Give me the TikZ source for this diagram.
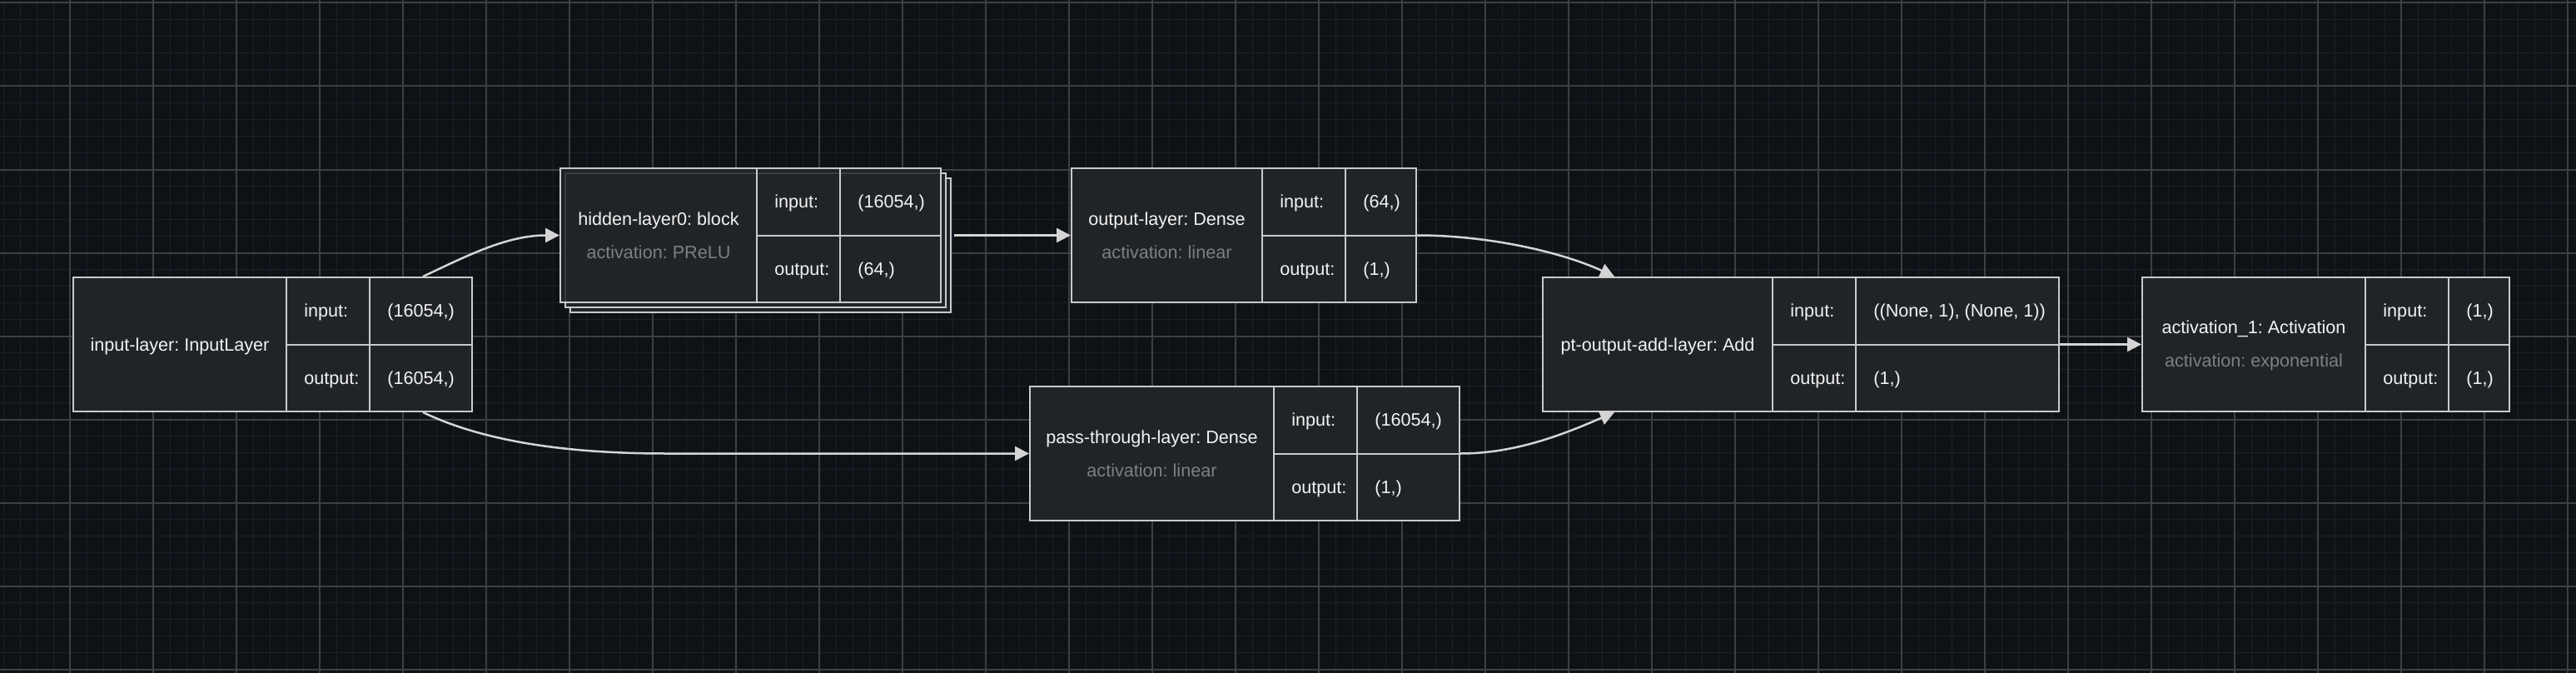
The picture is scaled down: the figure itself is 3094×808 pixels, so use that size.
\documentclass[tikz,border=0pt]{standalone}
\usepackage{fontspec}
\setmainfont{Liberation Sans}
\usetikzlibrary{arrows.meta}
\definecolor{bgc}{RGB}{15,18,21}
\definecolor{minorc}{RGB}{27,31,45}
\definecolor{majorc}{RGB}{60,63,68}
\definecolor{boxfill}{RGB}{33,36,39}
\definecolor{boxborder}{RGB}{201,202,203}
\definecolor{textc}{RGB}{242,242,242}
\definecolor{subc}{RGB}{125,127,129}
\definecolor{edgec}{RGB}{212,212,212}
\newcommand{\lfont}{\frenchspacing\fontsize{10.8pt}{12pt}\selectfont}
\tikzset{
  minorline/.style={draw=minorc, line width=0.5pt},
  majorline/.style={draw=majorc, line width=1pt},
  layerbox/.style={rectangle, draw=boxborder, fill=boxfill, line width=1pt, inner sep=0pt},
  backlayer/.style={rectangle, draw=boxborder, fill=boxfill, line width=1pt, inner sep=0pt},
  divider/.style={draw=boxborder, line width=1pt},
  nametext/.style={text=textc, font=\lfont, inner sep=0pt, anchor=base},
  subtext/.style={text=subc, font=\lfont, inner sep=0pt, anchor=base},
  celltext/.style={text=textc, font=\lfont, inner sep=0pt, anchor=base west},
  edge/.style={draw=edgec, line width=1.25pt, -{Triangle[length=8.5pt,width=8.5pt]}},
}
% #1 name, #2 x0, #3 x1 (end of name column), #4 x3 (right edge), #5 top, #6 input value, #7 output value, #8 extra style
\newcommand{\layerframe}[8]{%
  \node[layerbox, #8, minimum width={(#4-#2)*0.5pt}, minimum height=80.5pt] (#1) at ({(#2+#4)/2},{#5+80.5}) {};
  \draw[divider] (#3,#5) -- (#3,#5+161);
  \draw[divider] (#3+100,#5) -- (#3+100,#5+161);
  \draw[divider] (#3,#5+80.5) -- (#4,#5+80.5);
  \node[celltext] (#1-il) at (#3+21,#5+47.75) {input:};
  \node[celltext] (#1-ol) at (#3+21,#5+128.25) {output:};
  \node[celltext] (#1-iv) at (#3+121,#5+47.75) {#6};
  \node[celltext] (#1-ov) at (#3+121,#5+128.25) {#7};
}
\begin{document}
\begin{tikzpicture}[x=0.5pt,y=-0.5pt]
\useasboundingbox (0,0) rectangle (3094,808);
\fill[bgc] (0,0) rectangle (3094,808);
% grid
\foreach \gx in {4,24,...,3094} \draw[minorline] (\gx,0) -- (\gx,808);
\foreach \gy in {3.5,23.5,...,808} \draw[minorline] (0,\gy) -- (3094,\gy);
\foreach \gx in {84,184,...,3094} \draw[majorline] (\gx,0) -- (\gx,808);
\foreach \gy in {3.5,103.5,...,808} \draw[majorline] (0,\gy) -- (3094,\gy);

% input layer
\layerframe{in}{88}{344}{567}{333}{(16054,)}{(16054,)}{}
\node[nametext] (in-name) at (216,421.5) {input-layer: InputLayer};

% hidden layer (stacked)
\node[backlayer, minimum width=228.5pt, minimum height=80.5pt] (hid-b2) at (913.5,294.5) {};
\node[backlayer, minimum width=228.5pt, minimum height=80.5pt] (hid-b1) at (907.5,288.5) {};
\layerframe{hid}{673}{909}{1130}{202}{(16054,)}{(64,)}{fill opacity=0.85}
\node[nametext] (hid-name) at (791,270) {hidden-layer0: block};
\node[subtext] (hid-act) at (791,310) {activation: PReLU};

% output layer
\layerframe{outl}{1287}{1516}{1701}{202}{(64,)}{(1,)}{}
\node[nametext] (outl-name) at (1401.5,270) {output-layer: Dense};
\node[subtext] (outl-act) at (1401.5,310) {activation: linear};

% pass-through layer
\layerframe{pass}{1237}{1530}{1753}{464}{(16054,)}{(1,)}{}
\node[nametext] (pass-name) at (1383.5,532) {pass-through-layer: Dense};
\node[subtext] (pass-act) at (1383.5,572) {activation: linear};

% add layer
\layerframe{add}{1853}{2129}{2473}{333}{((None, 1), (None, 1))}{(1,)}{}
\node[nametext] (add-name) at (1991,421.5) {pt-output-add-layer: Add};

% activation layer
\layerframe{act}{2573}{2841}{3014}{333}{(1,)}{(1,)}{}
\node[nametext] (act-name) at (2707,400.5) {activation\_1: Activation};
\node[subtext] (act-act) at (2707,440.5) {activation: exponential};

% connectors
\draw[edge] ([xshift=-30pt]in.north east) .. controls +(53,-25) and +(-63,0) .. (hid.west);
\draw[edge] ([xshift=-30pt]in.south east) .. controls +(73,35) and +(-120,0) .. ([xshift=-218pt]pass.west) -- (pass.west);
\draw[edge] ([xshift=7.5pt]hid.east) -- (outl.west);
\draw[edge] (outl.east) .. controls +(89,0) and +(-60,-28) .. ([xshift=43.5pt]add.north west);
\draw[edge] (pass.east) .. controls +(67,0) and +(-60,26) .. ([xshift=43.5pt]add.south west);
\draw[edge] (add.east) -- (act.west);
\end{tikzpicture}
\end{document}
